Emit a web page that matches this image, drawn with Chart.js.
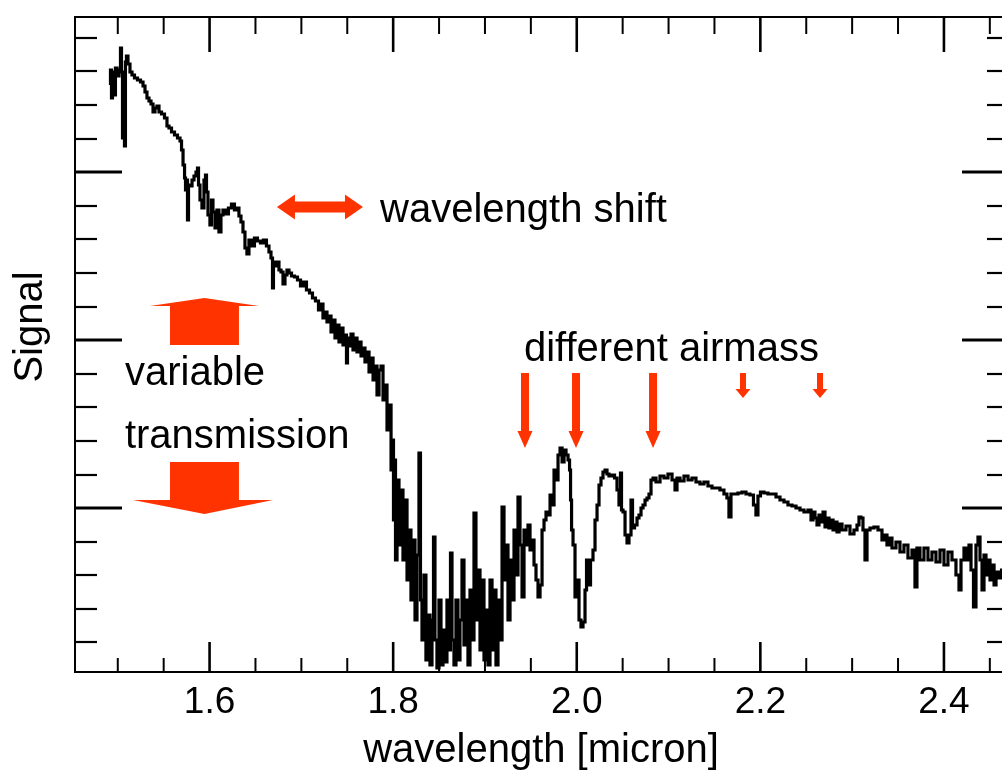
<!DOCTYPE html>
<html>
<head>
<meta charset="utf-8">
<title>Signal vs wavelength</title>
<script src="https://cdn.jsdelivr.net/npm/chart.js@4.4.1/dist/chart.umd.min.js"></script>
<style>
  html, body { margin: 0; padding: 0; background: #fff; overflow: hidden; }
  #wrap { position: relative; width: 1008px; height: 772px; }
</style>
</head>
<body>
<div id="wrap"><canvas id="spectrum"></canvas></div>
<script>
// spectrum (wavelength in micron, signal in arbitrary counts)
const wavelength = [
  1.4915, 1.4926, 1.4937, 1.4948, 1.4969, 1.4980, 1.5002, 1.5024, 1.5035, 1.5046,
  1.5057, 1.5068, 1.5078, 1.5089, 1.5100, 1.5122, 1.5144, 1.5166, 1.5198, 1.5231,
  1.5264, 1.5286, 1.5307, 1.5329, 1.5351, 1.5373, 1.5395, 1.5416, 1.5438, 1.5460,
  1.5493, 1.5525, 1.5547, 1.5569, 1.5602, 1.5634, 1.5667, 1.5689, 1.5700, 1.5722,
  1.5733, 1.5743, 1.5754, 1.5765, 1.5776, 1.5798, 1.5820, 1.5841, 1.5863, 1.5874,
  1.5885, 1.5906, 1.5928, 1.5950, 1.5961, 1.5972, 1.5993, 1.6015, 1.6026, 1.6048,
  1.6070, 1.6091, 1.6113, 1.6135, 1.6157, 1.6189, 1.6222, 1.6255, 1.6287, 1.6309,
  1.6331, 1.6353, 1.6375, 1.6396, 1.6418, 1.6440, 1.6473, 1.6505, 1.6538, 1.6571,
  1.6603, 1.6636, 1.6658, 1.6680, 1.6691, 1.6701, 1.6723, 1.6745, 1.6767, 1.6789,
  1.6811, 1.6832, 1.6854, 1.6876, 1.6909, 1.6941, 1.6974, 1.7007, 1.7039, 1.7072,
  1.7105, 1.7137, 1.7170, 1.7203, 1.7225, 1.7246, 1.7268, 1.7290, 1.7312, 1.7334,
  1.7355, 1.7377, 1.7399, 1.7421, 1.7443, 1.7464, 1.7486, 1.7497, 1.7508, 1.7530,
  1.7552, 1.7573, 1.7595, 1.7617, 1.7639, 1.7661, 1.7682, 1.7704, 1.7726, 1.7748,
  1.7770, 1.7792, 1.7813, 1.7835, 1.7857, 1.7879, 1.7900, 1.7922, 1.7944, 1.7966,
  1.7988, 1.7998, 1.8009, 1.8020, 1.8031, 1.8053, 1.8074, 1.8096, 1.8118, 1.8140,
  1.8162, 1.8183, 1.8205, 1.8227, 1.8249, 1.8270, 1.8292, 1.8303, 1.8325, 1.8346,
  1.8368, 1.8390, 1.8412, 1.8434, 1.8445, 1.8466, 1.8488, 1.8510, 1.8532, 1.8554,
  1.8575, 1.8597, 1.8619, 1.8630, 1.8652, 1.8673, 1.8695, 1.8717, 1.8739, 1.8761,
  1.8782, 1.8804, 1.8826, 1.8848, 1.8870, 1.8891, 1.8913, 1.8935, 1.8957, 1.8979,
  1.9000, 1.9022, 1.9044, 1.9066, 1.9088, 1.9109, 1.9131, 1.9153, 1.9175, 1.9197,
  1.9218, 1.9240, 1.9262, 1.9284, 1.9306, 1.9327, 1.9349, 1.9371, 1.9393, 1.9415,
  1.9436, 1.9458, 1.9480, 1.9502, 1.9524, 1.9545, 1.9567, 1.9589, 1.9611, 1.9633,
  1.9654, 1.9676, 1.9698, 1.9720, 1.9742, 1.9763, 1.9785, 1.9807, 1.9829, 1.9851,
  1.9872, 1.9894, 1.9916, 1.9927, 1.9938, 1.9949, 1.9970, 1.9992, 2.0014, 2.0035,
  2.0057, 2.0079, 2.0101, 2.0112, 2.0134, 2.0166, 2.0188, 2.0210, 2.0232, 2.0253,
  2.0275, 2.0297, 2.0319, 2.0340, 2.0362, 2.0395, 2.0428, 2.0449, 2.0471, 2.0482,
  2.0493, 2.0515, 2.0537, 2.0558, 2.0580, 2.0602, 2.0613, 2.0646, 2.0667, 2.0689,
  2.0711, 2.0733, 2.0755, 2.0776, 2.0798, 2.0820, 2.0842, 2.0885, 2.0929, 2.0972,
  2.1016, 2.1060, 2.1081, 2.1103, 2.1147, 2.1190, 2.1234, 2.1277, 2.1321, 2.1364,
  2.1408, 2.1451, 2.1495, 2.1538, 2.1582, 2.1625, 2.1647, 2.1669, 2.1691, 2.1734,
  2.1778, 2.1822, 2.1865, 2.1909, 2.1941, 2.1963, 2.1985, 2.2018, 2.2061, 2.2105,
  2.2149, 2.2192, 2.2236, 2.2279, 2.2323, 2.2367, 2.2410, 2.2454, 2.2497, 2.2541,
  2.2563, 2.2584, 2.2606, 2.2628, 2.2650, 2.2672, 2.2694, 2.2715, 2.2737, 2.2759,
  2.2781, 2.2803, 2.2824, 2.2846, 2.2868, 2.2911, 2.2955, 2.2998, 2.3042, 2.3064,
  2.3085, 2.3107, 2.3129, 2.3151, 2.3173, 2.3216, 2.3260, 2.3303, 2.3347, 2.3369,
  2.3390, 2.3412, 2.3456, 2.3499, 2.3543, 2.3586, 2.3630, 2.3674, 2.3695, 2.3717,
  2.3761, 2.3804, 2.3848, 2.3891, 2.3935, 2.3979, 2.4022, 2.4066, 2.4109, 2.4153,
  2.4175, 2.4197, 2.4240, 2.4262, 2.4284, 2.4306, 2.4338, 2.4360, 2.4382, 2.4404,
  2.4426, 2.4447, 2.4469, 2.4491, 2.4513, 2.4535, 2.4557, 2.4578, 2.4611, 2.4644,
  2.4687
];

const signal = [
  587, 602, 574, 600, 577, 604, 596, 602, 624, 600,
  534, 597, 526, 610, 616, 608, 600, 597, 594, 592,
  590, 586, 580, 574, 571, 568, 560, 564, 566, 560,
  558, 554, 546, 544, 540, 537, 534, 531, 522, 507,
  494, 482, 492, 452, 487, 486, 492, 496, 500, 504,
  487, 472, 464, 492, 497, 480, 457, 447, 472, 460,
  444, 462, 440, 457, 462, 458, 464, 468, 462, 464,
  456, 450, 440, 424, 418, 432, 426, 434, 431, 429,
  432, 426, 420, 414, 384, 410, 406, 410, 402, 400,
  388, 397, 402, 399, 396, 395, 392, 386, 390, 382,
  379, 374, 371, 362, 368, 354, 360, 350, 356, 340,
  352, 334, 347, 330, 344, 327, 337, 309, 334, 326,
  338, 322, 334, 320, 330, 316, 324, 310, 320, 300,
  314, 292, 306, 277, 302, 306, 272, 287, 242, 267,
  202, 232, 152, 212, 112, 192, 127, 182, 112, 172,
  92, 142, 72, 132, 52, 117, 219, 72, 32, 97,
  12, 57, 7, 52, 135, 32, 4, 72, 7, 42,
  10, 72, 22, 119, 32, 7, 72, 12, 52, 112,
  27, 72, 7, 82, 32, 159, 52, 102, 22, 92,
  12, 62, 7, 92, 22, 82, 7, 72, 32, 165,
  92, 127, 52, 112, 72, 142, 97, 175, 127, 75,
  142, 127, 147, 122, 132, 107, 92, 75, 87, 142,
  152, 160, 157, 177, 167, 202, 192, 217, 224, 210,
  222, 217, 212, 202, 172, 142, 127, 75, 92, 52,
  45, 50, 82, 112, 87, 112, 122, 152, 167, 187,
  194, 200, 202, 198, 196, 197, 194, 182, 167, 199,
  162, 160, 137, 129, 137, 172, 144, 147, 154, 157,
  164, 167, 172, 174, 178, 192, 194, 190, 196, 194,
  198, 192, 182, 194, 191, 196, 192, 194, 190, 188,
  190, 186, 184, 184, 182, 178, 174, 155, 178, 178,
  179, 180, 178, 177, 167, 157, 176, 180, 179, 178,
  178, 175, 172, 170, 167, 166, 164, 162, 160, 162,
  152, 160, 154, 147, 157, 150, 160, 145, 154, 144,
  152, 142, 150, 140, 148, 142, 146, 138, 142, 147,
  155, 154, 142, 112, 142, 144, 145, 142, 132, 137,
  127, 134, 124, 130, 120, 127, 114, 122, 85, 124,
  112, 124, 112, 120, 110, 122, 107, 120, 112, 97,
  82, 112, 124, 112, 127, 102, 65, 127, 135, 112,
  82, 117, 97, 112, 92, 107, 87, 100, 94, 102,
  97
];

// axis ticks
const xTicks = [1.5, 1.55, 1.6, 1.65, 1.7, 1.75, 1.8, 1.85, 1.9, 1.95, 2.0,
                2.05, 2.1, 2.15, 2.2, 2.25, 2.3, 2.35, 2.4, 2.45];
const xMajor = [1.6, 1.8, 2.0, 2.2, 2.4];
const yTicks = [30, 63, 97, 130, 164, 197, 231, 265, 298, 332, 365, 399,
                433, 466, 500, 533, 567, 601, 634];
const yMajor = [164, 332, 500];

// annotations, in data units
const labels = [
  { text: 'wavelength shift', x: 1.7857, y: 450 },
  { text: 'different airmass', x: 1.9425, y: 311 },
  { text: 'variable', x: 1.5078, y: 287 },
  { text: 'transmission', x: 1.5078, y: 224 }
];
const shiftArrow = { from: 1.6734, to: 1.7671, y: 465 };
const airmassArrows = [
  { x: 1.9436, top: 299, tip: 224 },
  { x: 1.9992, top: 299, tip: 224 },
  { x: 2.0831, top: 299, tip: 224 },
  { x: 2.1811, top: 299, tip: 274 },
  { x: 2.2650, top: 299, tip: 274 }
];
const upArrow = { left: 1.5569, right: 1.6320, wingL: 1.5351, wingR: 1.6538, base: 327, wing: 366, tip: 374 };
const downArrow = { left: 1.5569, right: 1.6320, wingL: 1.5166, wingR: 1.6691, base: 210, wing: 172, tip: 158 };

const RED = '#ff3300';
const FONT = "'Liberation Sans', Arial, Helvetica, sans-serif";

function fillPoly(ctx, pts) {
  ctx.beginPath();
  ctx.moveTo(pts[0][0], pts[0][1]);
  for (let i = 1; i < pts.length; i++) ctx.lineTo(pts[i][0], pts[i][1]);
  ctx.closePath();
  ctx.fill();
}

function seg(ctx, x1, y1, x2, y2) {
  ctx.beginPath();
  ctx.moveTo(x1, y1);
  ctx.lineTo(x2, y2);
  ctx.stroke();
}

// box frame with inward pointing ticks on all four sides
const frameTicks = {
  id: 'frameTicks',
  afterDraw(chart) {
    const ctx = chart.ctx;
    const a = chart.chartArea;
    const sx = chart.scales.x, sy = chart.scales.y;
    ctx.save();
    ctx.strokeStyle = '#000';
    ctx.lineWidth = 2;
    ctx.strokeRect(a.left, a.top, a.right - a.left, a.bottom - a.top);

    xTicks.forEach(v => {
      const px = sx.getPixelForValue(v);
      const major = xMajor.includes(v);
      ctx.lineWidth = major ? 2.6 : 2;
      seg(ctx, px, a.bottom, px, a.bottom - (major ? 30 : 14));
      seg(ctx, px, a.top, px, a.top + (major ? 35 : 17));
    });
    yTicks.forEach(v => {
      const py = sy.getPixelForValue(v);
      const major = yMajor.includes(v);
      ctx.lineWidth = major ? 3 : 2.2;
      seg(ctx, a.left, py, a.left + (major ? 47 : 22), py);
      seg(ctx, a.right, py, a.right - (major ? 45 : 20), py);
    });

    // vertical axis title
    ctx.fillStyle = '#000';
    ctx.font = '40px ' + FONT;
    ctx.translate(42, sy.getPixelForValue(345));
    ctx.rotate(-Math.PI / 2);
    ctx.textAlign = 'center';
    ctx.textBaseline = 'alphabetic';
    ctx.fillText('Signal', 0, 0);
    ctx.restore();
  }
};

const annotations = {
  id: 'annotations',
  afterDraw(chart) {
    const ctx = chart.ctx;
    const sx = chart.scales.x, sy = chart.scales.y;
    ctx.save();

    ctx.fillStyle = '#000';
    ctx.font = '40px ' + FONT;
    ctx.textAlign = 'left';
    ctx.textBaseline = 'alphabetic';
    labels.forEach(l => ctx.fillText(l.text, sx.getPixelForValue(l.x), sy.getPixelForValue(l.y)));

    ctx.fillStyle = RED;

    // double headed arrow
    const x1 = sx.getPixelForValue(shiftArrow.from);
    const x2 = sx.getPixelForValue(shiftArrow.to);
    const cy = sy.getPixelForValue(shiftArrow.y);
    fillPoly(ctx, [[x1, cy], [x1 + 18, cy - 12.5], [x1 + 18, cy - 5.5], [x2 - 18, cy - 5.5],
      [x2 - 18, cy - 12.5], [x2, cy], [x2 - 18, cy + 12.5], [x2 - 18, cy + 5.5],
      [x1 + 18, cy + 5.5], [x1 + 18, cy + 12.5]]);

    // thin down arrows
    airmassArrows.forEach(ar => {
      const px = sx.getPixelForValue(ar.x);
      const top = sy.getPixelForValue(ar.top);
      const tip = sy.getPixelForValue(ar.tip);
      const big = (tip - top) > 40;
      const head = big ? 17 : 9;
      const half = big ? 4 : 3;
      const hw = 7.5;
      fillPoly(ctx, [[px - half, top], [px + half, top], [px + half, tip - head],
        [px + hw, tip - head], [px, tip], [px - hw, tip - head], [px - half, tip - head]]);
    });

    // fat arrows for variable transmission
    [upArrow, downArrow].forEach(f => {
      const l = sx.getPixelForValue(f.left), r = sx.getPixelForValue(f.right);
      const wl = sx.getPixelForValue(f.wingL), wr = sx.getPixelForValue(f.wingR);
      const base = sy.getPixelForValue(f.base);
      const wing = sy.getPixelForValue(f.wing);
      const tip = sy.getPixelForValue(f.tip);
      fillPoly(ctx, [[l, base], [r, base], [r, wing], [wr, wing], [(l + r) / 2, tip],
        [wl, wing], [l, wing]]);
    });

    ctx.restore();
  }
};

const points = wavelength.map((w, i) => ({ x: w, y: signal[i] }));

new Chart(document.getElementById('spectrum'), {
  type: 'line',
  data: {
    datasets: [{
      data: points,
      borderColor: '#000',
      borderWidth: 3.2,
      pointRadius: 0,
      stepped: 'middle',
      fill: false
    }]
  },
  options: {
    responsive: true,
    maintainAspectRatio: false,
    animation: false,
    layout: { padding: { top: 17, right: 1, left: 0, bottom: 0 } },
    plugins: {
      legend: { display: false },
      tooltip: { enabled: false }
    },
    scales: {
      x: {
        type: 'linear',
        min: 1.4534,
        max: 2.4687,
        grid: { display: false },
        border: { display: false },
        afterBuildTicks: scale => { scale.ticks = xTicks.map(v => ({ value: v })); },
        afterFit: scale => { scale.height = 100; },
        ticks: {
          autoSkip: false,
          maxRotation: 0,
          padding: 1,
          color: '#000',
          font: { family: FONT, size: 37 },
          callback: v => xMajor.includes(v) ? v.toFixed(1) : ''
        },
        title: {
          display: true,
          text: 'wavelength [micron]',
          color: '#000',
          font: { family: FONT, size: 40, lineHeight: 1.05 },
          padding: { top: 0, bottom: 0 }
        }
      },
      y: {
        min: 0,
        max: 655,
        grid: { display: false },
        border: { display: false },
        afterBuildTicks: scale => { scale.ticks = yTicks.map(v => ({ value: v })); },
        afterFit: scale => { scale.width = 75; },
        ticks: { display: false }
      }
    }
  },
  plugins: [frameTicks, annotations]
});
</script>
</body>
</html>
